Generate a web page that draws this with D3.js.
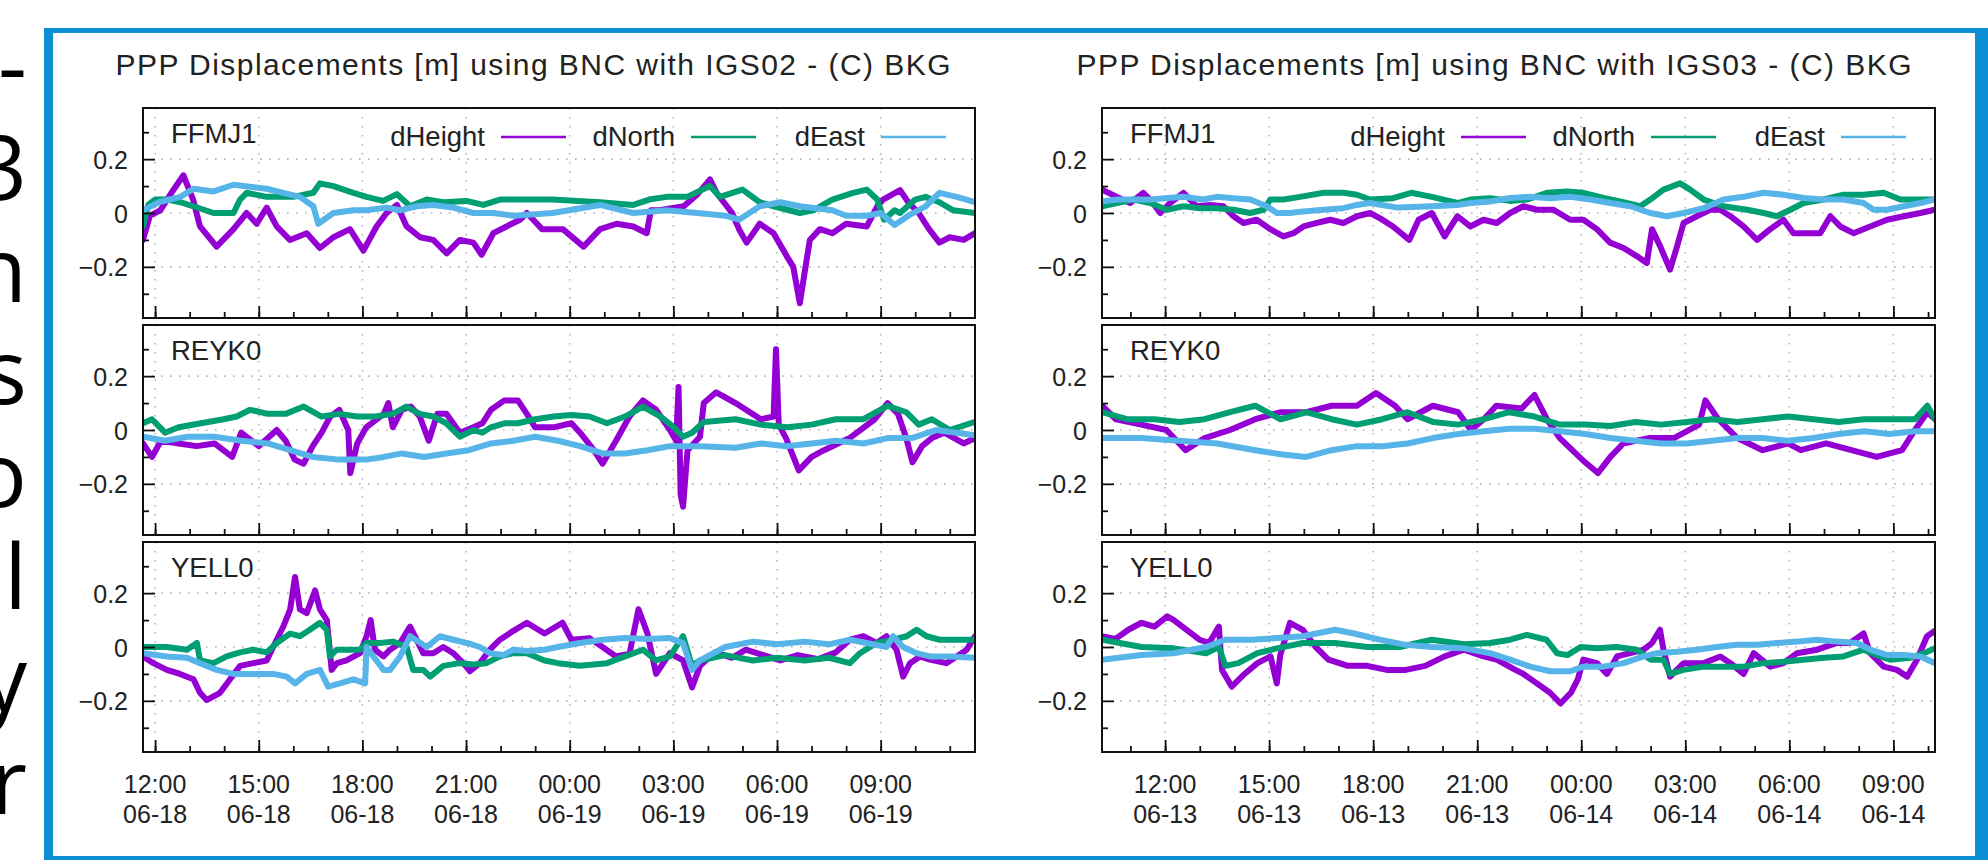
<!DOCTYPE html>
<html>
<head>
<meta charset="utf-8">
<script src="https://cdn.jsdelivr.net/npm/d3@7"></script>
<style>
  body { margin: 0; background: #fff; overflow: hidden; }
  svg { display: block; }
</style>
</head>
<body>
<svg id="page" width="1988" height="860"></svg>
<script>
// ---- data (hours after 12:00 of the first day, displacement in m) ----
const seriesNames = ["dHeight", "dNorth", "dEast"];
const seriesColors = ["#9400d3", "#009e73", "#56b4e9"];
const stations = ["FFMJ1", "REYK0", "YELL0"];
const titles = [
  "PPP Displacements [m] using BNC with IGS02 - (C) BKG",
  "PPP Displacements [m] using BNC with IGS03 - (C) BKG"
];
const yMajor = [-0.2, 0, 0.2];
const yMinor = [-0.3, -0.1, 0.1, 0.3];
const edgeLetters = ["-", "3", "n", "s", "o", "l", "y", "r"];

// IGS02, 06-18 12:00 .. 06-19
const igs02_FFMJ1_dHeight = [[-0.35,-0.10],[-0.15,-0.01],[0.15,0.01],[0.5,0.08],[0.82,0.14],[1.1,0.05],[1.3,-0.05],[1.78,-0.125],[2.27,-0.06],[2.65,0.0],[2.94,-0.04],[3.23,0.02],[3.52,-0.05],[3.9,-0.10],[4.39,-0.075],[4.77,-0.13],[5.16,-0.09],[5.64,-0.06],[6.03,-0.14],[6.41,-0.05],[6.7,0.0],[7.0,0.03],[7.28,-0.05],[7.67,-0.09],[8.05,-0.10],[8.44,-0.15],[8.82,-0.10],[9.21,-0.11],[9.45,-0.155],[9.79,-0.075],[10.17,-0.05],[10.56,-0.025],[10.76,0.0],[11.2,-0.06],[11.8,-0.06],[12.4,-0.125],[12.88,-0.06],[13.36,-0.04],[13.84,-0.05],[14.23,-0.075],[14.35,0.01],[14.6,0.01],[15.3,0.025],[15.7,0.07],[16.06,0.125],[16.25,0.075],[16.7,0.0],[16.9,-0.06],[17.12,-0.11],[17.5,-0.04],[17.9,-0.075],[18.28,-0.16],[18.47,-0.2],[18.66,-0.335],[18.8,-0.22],[18.95,-0.10],[19.24,-0.06],[19.6,-0.075],[20.0,-0.04],[20.6,-0.05],[20.9,0.025],[21.07,0.05],[21.56,0.085],[21.8,0.04],[22.1,0.0],[22.4,-0.06],[22.7,-0.11],[23.0,-0.09],[23.4,-0.10],[23.73,-0.075]];
const igs02_FFMJ1_dNorth = [[-0.35,-0.05],[-0.2,0.03],[0.0,0.05],[0.35,0.05],[0.73,0.04],[1.11,0.025],[1.69,0.0],[2.27,0.0],[2.46,0.05],[2.65,0.075],[3.23,0.06],[4.0,0.06],[4.58,0.075],[4.77,0.11],[5.16,0.10],[5.74,0.075],[6.12,0.06],[6.6,0.045],[7.0,0.07],[7.38,0.025],[7.86,0.05],[8.34,0.04],[9.01,0.045],[9.5,0.03],[9.98,0.05],[10.56,0.05],[11.5,0.05],[12.88,0.04],[13.84,0.03],[14.3,0.05],[14.8,0.06],[15.4,0.06],[16.06,0.10],[16.35,0.06],[17.0,0.087],[17.5,0.04],[17.9,0.025],[18.66,0.0],[19.05,0.01],[19.6,0.05],[20.2,0.075],[20.6,0.087],[20.9,0.05],[21.1,-0.025],[21.4,0.01],[21.56,0.0],[22.0,0.05],[22.3,0.06],[22.7,0.04],[23.1,0.01],[23.73,0.0]];
const igs02_FFMJ1_dEast = [[-0.35,0.01],[0.11,0.04],[0.73,0.06],[1.11,0.09],[1.69,0.08],[2.27,0.105],[3.23,0.09],[3.71,0.075],[4.19,0.06],[4.58,0.025],[4.72,-0.04],[5.16,0.0],[5.74,0.01],[6.12,0.01],[6.7,0.02],[7.09,0.01],[7.57,0.025],[8.05,0.03],[8.63,0.02],[9.21,0.0],[9.79,0.0],[10.37,-0.01],[11.5,0.0],[12.88,0.03],[13.84,0.0],[14.8,0.01],[15.7,0.0],[16.5,-0.01],[16.9,-0.025],[17.5,0.025],[18.1,0.04],[18.66,0.025],[19.6,0.01],[20.0,-0.01],[20.6,-0.01],[21.0,0.0],[21.4,-0.045],[21.8,-0.01],[22.3,0.025],[22.7,0.075],[23.2,0.06],[23.73,0.04]];

const igs02_REYK0_dHeight = [[-0.35,-0.05],[-0.09,-0.10],[0.17,-0.04],[0.68,-0.05],[1.2,-0.06],[1.72,-0.05],[2.23,-0.10],[2.49,-0.01],[3.0,-0.06],[3.52,0.0],[3.78,-0.04],[4.04,-0.11],[4.3,-0.125],[4.56,-0.06],[4.82,-0.01],[5.07,0.05],[5.33,0.075],[5.59,0.0],[5.65,-0.16],[5.85,-0.05],[6.11,0.01],[6.62,0.06],[6.75,0.10],[6.88,0.01],[7.14,0.075],[7.4,0.087],[7.66,0.05],[7.92,-0.04],[8.17,0.06],[8.43,0.06],[8.82,-0.01],[9.21,0.01],[9.47,0.025],[9.72,0.075],[10.11,0.11],[10.5,0.11],[10.76,0.06],[11.0,0.01],[11.53,0.01],[12.05,0.025],[12.3,-0.01],[12.7,-0.075],[12.95,-0.125],[13.34,-0.04],[13.73,0.05],[14.12,0.11],[14.5,0.075],[14.9,0.0],[15.08,-0.04],[15.15,0.16],[15.21,-0.24],[15.28,-0.285],[15.41,-0.075],[15.77,-0.025],[15.88,0.10],[16.24,0.14],[16.8,0.10],[17.53,0.04],[17.9,0.05],[17.97,0.30],[18.05,0.02],[18.26,-0.03],[18.63,-0.15],[19.0,-0.10],[19.36,-0.075],[20.1,-0.03],[20.83,0.04],[21.2,0.10],[21.5,0.06],[21.74,-0.03],[21.92,-0.12],[22.2,-0.06],[22.48,-0.03],[22.84,-0.01],[23.4,-0.05],[23.73,-0.03]];
const igs02_REYK0_dNorth = [[-0.35,0.025],[-0.09,0.04],[0.29,-0.01],[0.68,0.01],[1.33,0.025],[1.98,0.04],[2.36,0.05],[2.75,0.075],[3.26,0.06],[3.78,0.06],[4.3,0.087],[4.82,0.05],[5.33,0.06],[5.85,0.05],[6.37,0.05],[6.88,0.06],[7.27,0.087],[7.66,0.06],[8.05,0.05],[8.43,0.025],[8.82,-0.025],[9.21,0.0],[9.47,-0.01],[9.72,0.01],[10.11,0.025],[10.5,0.025],[11.0,0.04],[11.53,0.05],[12.05,0.056],[12.57,0.05],[13.08,0.025],[13.6,0.05],[14.12,0.087],[14.63,0.05],[15.02,0.01],[15.28,-0.025],[15.54,-0.01],[15.88,0.03],[16.8,0.04],[17.53,0.02],[18.3,0.01],[19.0,0.02],[19.7,0.04],[20.5,0.04],[21.2,0.09],[21.74,0.066],[22.1,0.02],[22.48,0.04],[23.0,0.0],[23.73,0.03]];
const igs02_REYK0_dEast = [[-0.35,-0.025],[0.29,-0.04],[0.94,-0.025],[1.72,-0.025],[2.49,-0.04],[3.26,-0.05],[3.91,-0.075],[4.56,-0.10],[5.33,-0.11],[6.11,-0.11],[6.62,-0.10],[7.14,-0.087],[7.79,-0.10],[8.43,-0.087],[9.08,-0.075],[9.72,-0.05],[10.37,-0.04],[11.0,-0.025],[11.66,-0.04],[12.3,-0.06],[12.95,-0.087],[13.6,-0.087],[14.25,-0.075],[14.9,-0.06],[15.77,-0.06],[16.8,-0.066],[17.53,-0.05],[18.26,-0.06],[19.0,-0.05],[19.7,-0.04],[20.5,-0.05],[21.2,-0.03],[21.9,-0.03],[22.6,0.0],[23.73,-0.02]];

const igs02_YELL0_dHeight = [[-0.35,-0.035],[-0.05,-0.06],[0.34,-0.085],[0.72,-0.10],[1.11,-0.12],[1.3,-0.17],[1.49,-0.197],[1.88,-0.17],[2.17,-0.12],[2.46,-0.07],[2.84,-0.06],[3.23,-0.05],[3.52,0.027],[3.71,0.076],[3.91,0.14],[4.05,0.26],[4.19,0.14],[4.39,0.126],[4.63,0.21],[4.77,0.14],[4.97,0.10],[5.11,-0.085],[5.26,-0.06],[5.54,-0.05],[5.93,-0.023],[6.12,0.04],[6.24,0.10],[6.36,-0.01],[6.61,-0.035],[6.8,-0.01],[7.09,0.015],[7.38,0.076],[7.57,0.027],[7.76,-0.023],[8.05,-0.023],[8.34,0.0],[8.63,-0.023],[8.92,-0.06],[9.11,-0.09],[9.4,-0.06],[9.69,-0.01],[9.98,0.027],[10.37,0.06],[10.76,0.09],[11.27,0.05],[11.79,0.09],[12.05,0.027],[12.57,0.033],[12.95,0.0],[13.34,-0.035],[13.73,-0.025],[13.99,0.14],[14.25,0.05],[14.5,-0.10],[14.9,-0.023],[15.28,-0.05],[15.54,-0.15],[15.77,-0.07],[16.2,-0.02],[16.7,-0.04],[17.1,-0.01],[17.6,-0.03],[18.1,-0.05],[18.6,-0.03],[19.2,-0.045],[19.7,-0.02],[20.11,0.027],[20.5,0.04],[20.88,0.015],[21.17,0.04],[21.46,-0.01],[21.65,-0.11],[21.85,-0.06],[22.14,-0.035],[22.42,-0.047],[22.9,-0.06],[23.2,-0.035],[23.49,-0.01],[23.73,0.04]];
const igs02_YELL0_dNorth = [[-0.35,0.0],[0.34,0.0],[0.92,-0.01],[1.21,0.015],[1.3,-0.05],[1.69,-0.06],[2.07,-0.035],[2.46,-0.02],[2.84,-0.01],[3.23,-0.02],[3.52,0.015],[3.91,0.05],[4.19,0.04],[4.48,0.064],[4.77,0.09],[4.97,0.064],[5.06,-0.035],[5.26,-0.01],[5.64,-0.01],[5.93,-0.01],[6.12,0.015],[6.51,0.015],[6.89,0.02],[7.28,0.0],[7.47,-0.085],[7.76,-0.085],[7.96,-0.11],[8.34,-0.07],[8.82,-0.06],[9.21,-0.065],[9.59,-0.06],[9.98,-0.035],[10.37,-0.023],[10.76,-0.023],[11.27,-0.05],[11.66,-0.06],[12.3,-0.07],[13.08,-0.06],[13.6,-0.035],[14.12,-0.01],[14.5,-0.05],[14.9,-0.035],[15.28,0.04],[15.54,-0.07],[15.77,-0.05],[16.5,-0.03],[17.3,-0.05],[18.0,-0.04],[18.8,-0.05],[19.5,-0.04],[20.11,-0.06],[20.4,-0.023],[20.88,0.015],[21.36,0.027],[21.75,0.04],[22.04,0.064],[22.33,0.04],[22.71,0.027],[23.2,0.027],[23.73,0.027]];
const igs02_YELL0_dEast = [[-0.35,-0.023],[0.34,-0.035],[0.92,-0.04],[1.3,-0.06],[1.78,-0.085],[2.27,-0.10],[2.84,-0.10],[3.42,-0.10],[3.81,-0.11],[4.05,-0.135],[4.39,-0.10],[4.77,-0.085],[5.01,-0.147],[5.35,-0.135],[5.74,-0.12],[6.08,-0.135],[6.12,0.0],[6.32,-0.035],[6.61,-0.085],[6.8,-0.085],[7.09,-0.035],[7.38,0.04],[7.86,0.0],[8.24,0.04],[8.63,0.027],[9.02,0.015],[9.4,0.0],[9.69,-0.023],[10.08,-0.03],[10.37,-0.01],[10.76,-0.015],[11.27,-0.01],[11.66,0.0],[12.3,0.015],[12.95,0.027],[13.6,0.033],[14.25,0.03],[14.9,0.033],[15.28,0.015],[15.54,-0.085],[15.77,-0.05],[16.5,0.0],[17.3,0.02],[18.0,0.01],[18.8,0.02],[19.5,0.01],[20.11,0.027],[20.59,0.015],[21.17,0.0],[21.36,0.04],[21.65,0.0],[22.04,-0.023],[22.42,-0.035],[23.0,-0.035],[23.73,-0.04]];

// IGS03, 06-13 12:00 .. 06-14
const igs03_FFMJ1_dHeight = [[-1.82,0.087],[-1.39,0.06],[-1.01,0.037],[-0.63,0.075],[-0.43,0.05],[-0.14,0.0],[0.14,0.037],[0.53,0.075],[0.91,0.025],[1.3,0.03],[1.68,0.025],[1.97,-0.012],[2.26,-0.037],[2.64,-0.025],[3.03,-0.06],[3.41,-0.087],[3.7,-0.075],[3.99,-0.05],[4.38,-0.037],[4.76,-0.025],[5.14,-0.037],[5.53,-0.012],[5.91,0.0],[6.2,-0.02],[6.57,-0.05],[7.04,-0.10],[7.31,-0.025],[7.69,0.0],[8.06,-0.087],[8.43,-0.012],[8.8,-0.05],[9.18,-0.025],[9.56,-0.037],[9.95,0.0],[10.33,0.025],[10.72,0.012],[11.2,0.012],[11.68,-0.025],[12.06,-0.025],[12.45,-0.06],[12.83,-0.11],[13.22,-0.13],[13.6,-0.16],[13.89,-0.186],[14.04,-0.06],[14.28,-0.125],[14.56,-0.21],[14.76,-0.125],[14.95,-0.037],[15.33,-0.012],[15.72,0.012],[16.01,0.012],[16.3,-0.012],[16.68,-0.05],[17.07,-0.10],[17.45,-0.06],[17.83,-0.025],[18.12,-0.075],[18.51,-0.075],[18.89,-0.075],[19.18,-0.012],[19.47,-0.05],[19.85,-0.075],[20.33,-0.05],[20.82,-0.025],[21.3,-0.012],[21.78,0.0],[22.2,0.012]];
const igs03_FFMJ1_dNorth = [[-1.82,0.025],[-1.39,0.037],[-0.91,0.05],[-0.43,0.037],[0.05,0.012],[0.53,0.025],[1.01,0.018],[1.49,0.018],[1.97,0.012],[2.45,0.0],[2.84,0.012],[3.03,0.05],[3.41,0.05],[3.89,0.06],[4.57,0.075],[5.14,0.075],[5.53,0.068],[5.91,0.05],[6.57,0.055],[7.1,0.075],[7.69,0.06],[8.43,0.037],[8.8,0.05],[9.37,0.055],[9.95,0.045],[10.43,0.05],[11.01,0.075],[11.58,0.08],[12.06,0.075],[12.64,0.056],[13.12,0.043],[13.7,0.025],[13.99,0.05],[14.37,0.087],[14.85,0.11],[15.14,0.087],[15.53,0.05],[16.1,0.025],[16.78,0.012],[17.26,0.0],[17.64,-0.012],[18.03,0.012],[18.41,0.037],[18.99,0.05],[19.56,0.068],[20.14,0.068],[20.72,0.075],[21.2,0.05],[21.68,0.05],[22.2,0.05]];
const igs03_FFMJ1_dEast = [[-1.82,0.043],[-1.39,0.05],[-0.43,0.05],[0.53,0.06],[1.1,0.05],[1.49,0.06],[1.97,0.055],[2.45,0.05],[2.93,0.025],[3.22,0.0],[3.61,0.0],[3.99,0.006],[4.57,0.012],[5.14,0.018],[5.53,0.03],[5.91,0.037],[6.7,0.02],[7.69,0.025],[8.43,0.03],[8.8,0.037],[9.37,0.043],[9.95,0.056],[10.53,0.06],[11.1,0.055],[11.68,0.06],[12.26,0.05],[12.83,0.037],[13.41,0.025],[13.99,0.0],[14.47,-0.012],[14.95,0.0],[15.53,0.018],[16.1,0.05],[16.68,0.06],[17.26,0.075],[17.83,0.068],[18.41,0.056],[18.99,0.05],[19.56,0.05],[20.14,0.037],[20.43,0.012],[20.82,0.012],[21.3,0.025],[21.78,0.037],[22.2,0.05]];

const igs03_REYK0_dHeight = [[-1.82,0.09],[-1.42,0.04],[-0.69,0.02],[0.04,0.0],[0.59,-0.075],[1.14,-0.03],[1.87,0.0],[2.6,0.04],[3.33,0.066],[4.07,0.066],[4.8,0.09],[5.53,0.09],[6.08,0.137],[6.63,0.09],[6.99,0.04],[7.72,0.09],[8.45,0.066],[8.82,0.0],[9.19,0.04],[9.55,0.09],[10.28,0.08],[10.65,0.13],[11.01,0.04],[11.38,-0.03],[11.74,-0.075],[12.11,-0.12],[12.48,-0.16],[12.84,-0.10],[13.21,-0.05],[13.94,-0.03],[14.67,-0.03],[15.4,0.02],[15.58,0.11],[15.95,0.04],[16.5,-0.03],[17.23,-0.075],[17.96,-0.05],[18.33,-0.075],[19.06,-0.05],[19.79,-0.075],[20.52,-0.10],[21.25,-0.075],[21.62,0.0],[21.98,0.066],[22.2,0.04]];
const igs03_REYK0_dNorth = [[-1.82,0.066],[-1.1,0.04],[-0.3,0.04],[0.41,0.03],[1.14,0.04],[1.87,0.066],[2.6,0.09],[3.33,0.04],[4.07,0.066],[4.8,0.04],[5.53,0.02],[6.26,0.04],[6.99,0.066],[7.72,0.03],[8.45,0.02],[9.19,0.04],[9.92,0.066],[10.65,0.05],[11.38,0.02],[12.11,0.02],[12.84,0.015],[13.57,0.03],[14.3,0.02],[15.04,0.03],[15.77,0.04],[16.5,0.03],[17.23,0.04],[17.96,0.05],[18.69,0.04],[19.42,0.03],[20.16,0.04],[20.89,0.04],[21.62,0.04],[21.98,0.09],[22.2,0.04]];
const igs03_REYK0_dEast = [[-1.82,-0.03],[-0.69,-0.03],[0.41,-0.04],[1.5,-0.05],[2.6,-0.075],[3.33,-0.09],[4.07,-0.10],[4.8,-0.075],[5.53,-0.06],[6.26,-0.06],[6.99,-0.05],[7.72,-0.03],[8.45,-0.015],[9.19,-0.005],[9.92,0.005],[10.65,0.005],[11.38,-0.005],[12.11,-0.015],[12.84,-0.03],[13.57,-0.04],[14.3,-0.05],[15.04,-0.05],[15.77,-0.04],[16.5,-0.03],[17.23,-0.03],[17.96,-0.04],[18.69,-0.03],[19.42,-0.015],[20.16,-0.005],[20.89,-0.015],[21.62,-0.005],[22.2,-0.005]];

const igs03_YELL0_dHeight = [[-1.82,0.04],[-1.43,0.03],[-1.06,0.064],[-0.68,0.09],[-0.31,0.076],[0.06,0.114],[0.25,0.10],[0.62,0.064],[0.99,0.027],[1.27,0.015],[1.55,0.076],[1.64,-0.085],[1.92,-0.147],[2.29,-0.10],[2.66,-0.06],[3.04,-0.035],[3.22,-0.135],[3.32,-0.03],[3.6,0.09],[3.97,0.064],[4.34,0.0],[4.71,-0.047],[5.27,-0.07],[5.83,-0.07],[6.39,-0.085],[6.94,-0.085],[7.5,-0.07],[8.06,-0.035],[8.62,-0.01],[9.18,-0.035],[9.56,-0.047],[10.1,-0.085],[10.33,-0.10],[10.72,-0.135],[11.1,-0.17],[11.4,-0.21],[11.7,-0.17],[11.9,-0.12],[12.06,-0.047],[12.45,-0.06],[12.74,-0.10],[13.03,-0.035],[13.41,-0.023],[13.8,-0.01],[14.04,0.015],[14.27,0.064],[14.37,-0.01],[14.56,-0.11],[14.95,-0.06],[15.53,-0.06],[16.01,-0.035],[16.3,-0.06],[16.68,-0.10],[16.97,-0.023],[17.45,-0.073],[17.83,-0.06],[18.22,-0.023],[18.8,-0.01],[19.37,0.015],[19.75,0.015],[20.14,0.05],[20.33,-0.023],[20.72,-0.073],[21.1,-0.085],[21.4,-0.11],[21.68,-0.047],[21.97,0.04],[22.2,0.06]];
const igs03_YELL0_dNorth = [[-1.82,0.027],[-0.68,0.0],[0.25,-0.005],[1.18,-0.023],[1.55,0.0],[1.74,-0.07],[2.11,-0.06],[2.66,-0.023],[3.22,-0.005],[3.97,0.015],[4.9,0.015],[5.83,0.0],[6.76,0.0],[7.69,0.027],[8.62,0.01],[9.37,0.015],[9.95,0.027],[10.43,0.045],[11.0,0.027],[11.3,-0.023],[11.6,-0.03],[11.98,0.0],[12.45,-0.005],[13.03,0.0],[13.6,-0.01],[14.0,-0.047],[14.37,-0.047],[14.56,-0.10],[14.95,-0.085],[15.53,-0.073],[16.1,-0.073],[16.68,-0.073],[17.26,-0.06],[17.83,-0.055],[18.41,-0.047],[18.99,-0.04],[19.56,-0.035],[20.14,-0.01],[20.52,-0.03],[20.91,-0.047],[21.49,-0.04],[21.88,-0.023],[22.2,-0.005]];
const igs03_YELL0_dEast = [[-1.82,-0.047],[-0.68,-0.03],[0.25,-0.023],[1.18,0.0],[1.74,0.027],[2.48,0.027],[3.22,0.033],[3.97,0.04],[4.9,0.064],[5.45,0.05],[6.2,0.027],[6.94,0.008],[7.69,0.0],[8.62,-0.005],[9.37,-0.023],[9.95,-0.047],[10.53,-0.073],[11.1,-0.09],[11.68,-0.09],[12.06,-0.073],[12.64,-0.073],[13.22,-0.06],[13.8,-0.035],[14.18,-0.023],[14.76,-0.018],[15.33,-0.01],[15.91,0.0],[16.49,0.008],[17.07,0.008],[17.64,0.015],[18.22,0.02],[18.8,0.027],[19.37,0.02],[19.95,0.015],[20.34,-0.01],[20.82,-0.03],[21.3,-0.03],[21.78,-0.035],[22.2,-0.06]];

// ---- layout ----
const svg = d3.select("#page");
const FONT = "'Liberation Sans', Arial, Helvetica, sans-serif";
const INK = "#222";
const BLUE = "#0b8ed4";
const panelTops = [108, 325, 542];
const panelH = 210;

const plots = [
  {
    title: titles[0], start: Date.UTC(2021, 5, 18, 12), h0: -0.35, h1: 23.73,
    left: 143, right: 975, imgLeft: 53, imgRight: 1013,
    data: [[igs02_FFMJ1_dHeight, igs02_FFMJ1_dNorth, igs02_FFMJ1_dEast],
           [igs02_REYK0_dHeight, igs02_REYK0_dNorth, igs02_REYK0_dEast],
           [igs02_YELL0_dHeight, igs02_YELL0_dNorth, igs02_YELL0_dEast]]
  },
  {
    title: titles[1], start: Date.UTC(2021, 5, 13, 12), h0: -1.82, h1: 22.2,
    left: 1102, right: 1935, imgLeft: 1013, imgRight: 1975,
    data: [[igs03_FFMJ1_dHeight, igs03_FFMJ1_dNorth, igs03_FFMJ1_dEast],
           [igs03_REYK0_dHeight, igs03_REYK0_dNorth, igs03_REYK0_dEast],
           [igs03_YELL0_dHeight, igs03_YELL0_dNorth, igs03_YELL0_dEast]]
  }
];

// cut-off text at the left edge of the page
svg.append("g").selectAll("text")
  .data(edgeLetters)
  .enter().append("text")
  .attr("x", 27)
  .attr("y", (d, i) => 97.5 + i * 102.3)
  .attr("text-anchor", "end")
  .attr("font-family", "'Open Sans', 'Noto Sans', sans-serif")
  .attr("font-size", 90)
  .attr("fill", "#000")
  .text(d => d);

// blue frame around the two images
svg.append("rect").attr("x", 44).attr("y", 28).attr("width", 1944).attr("height", 5).attr("fill", BLUE);
svg.append("rect").attr("x", 44).attr("y", 28).attr("width", 9).attr("height", 832).attr("fill", BLUE);
svg.append("rect").attr("x", 1975).attr("y", 28).attr("width", 13).attr("height", 832).attr("fill", BLUE);
svg.append("rect").attr("x", 44).attr("y", 856).attr("width", 1944).attr("height", 4).attr("fill", BLUE);

const fmtTime = d3.utcFormat("%H:%M");
const fmtDay = d3.utcFormat("%m-%d");

plots.forEach((p, pi) => {
  const toDate = h => new Date(p.start + h * 3600e3);
  const x = d3.scaleUtc().domain([toDate(p.h0), toDate(p.h1)]).range([p.left, p.right]);
  const majorX = x.ticks(d3.utcHour.every(3));
  const minorX = x.ticks(d3.utcHour.every(1));
  const g = svg.append("g");

  // title
  g.append("text")
    .attr("x", (p.imgLeft + p.imgRight) / 2)
    .attr("y", 75)
    .attr("text-anchor", "middle")
    .attr("font-family", FONT)
    .attr("font-size", 30)
    .attr("fill", INK)
    .attr("textLength", 835)
    .attr("lengthAdjust", "spacing")
    .text(p.title);

  panelTops.forEach((top, si) => {
    const y = d3.scaleLinear().domain([-0.39, 0.39]).range([top + panelH, top]);
    const pg = g.append("g");

    // dotted grid
    pg.selectAll("line.hgrid")
      .data(yMajor)
      .enter().append("line")
      .attr("class", "hgrid")
      .attr("x1", p.left).attr("x2", p.right)
      .attr("y1", d => y(d)).attr("y2", d => y(d))
      .attr("stroke", "#b4b4b4").attr("stroke-width", 1.6)
      .attr("stroke-dasharray", "1.6,7.4");
    pg.selectAll("line.vgrid")
      .data(majorX)
      .enter().append("line")
      .attr("class", "vgrid")
      .attr("x1", d => x(d)).attr("x2", d => x(d))
      .attr("y1", top).attr("y2", top + panelH)
      .attr("stroke", "#b4b4b4").attr("stroke-width", 1.6)
      .attr("stroke-dasharray", "1.6,7.4");

    // series
    const clipId = `clip${pi}${si}`;
    pg.append("clipPath").attr("id", clipId)
      .append("rect").attr("x", p.left).attr("y", top)
      .attr("width", p.right - p.left).attr("height", panelH);
    const line = d3.line()
      .x(d => x(toDate(d[0])))
      .y(d => y(d[1]));
    pg.append("g").attr("clip-path", `url(#${clipId})`)
      .selectAll("path")
      .data(p.data[si])
      .enter().append("path")
      .attr("d", line)
      .attr("fill", "none")
      .attr("stroke", (d, k) => seriesColors[k])
      .attr("stroke-width", 6)
      .attr("stroke-linejoin", "round")
      .attr("stroke-linecap", "round");

    // ticks pointing into the frame
    const yAxis = d3.axisLeft(y).tickValues(yMajor).tickSize(-12).tickPadding(15)
      .tickFormat(d => d === 0 ? "0" : d3.format(".1f")(d));
    const ya = pg.append("g").attr("transform", `translate(${p.left},0)`).call(yAxis);
    const yMin = d3.axisLeft(y).tickValues(yMinor).tickSize(-6).tickFormat("");
    const ym = pg.append("g").attr("transform", `translate(${p.left},0)`).call(yMin);
    const xMin = d3.axisBottom(x).tickValues(minorX).tickSize(-6).tickFormat("");
    const xm = pg.append("g").attr("transform", `translate(0,${top + panelH})`).call(xMin);
    const xMaj = d3.axisBottom(x).tickValues(majorX).tickSize(-12).tickFormat("");
    const xa = pg.append("g").attr("transform", `translate(0,${top + panelH})`).call(xMaj);
    [ya, ym, xm, xa].forEach(a => {
      a.select(".domain").remove();
      a.selectAll(".tick line").attr("stroke", "#111").attr("stroke-width", 1.8);
    });
    ya.selectAll(".tick text")
      .attr("font-family", FONT).attr("font-size", 25).attr("fill", INK)
      .attr("dy", "0.36em");

    // frame
    pg.append("rect")
      .attr("x", p.left).attr("y", top)
      .attr("width", p.right - p.left).attr("height", panelH)
      .attr("fill", "none").attr("stroke", "#111").attr("stroke-width", 2);

    // station name
    pg.append("text")
      .attr("x", p.left + 28).attr("y", top + 35)
      .attr("font-family", FONT).attr("font-size", 27.5).attr("fill", INK)
      .text(stations[si]);

    // legend, top panel only
    if (si === 0) {
      seriesNames.forEach((name, k) => {
        const off = 190 * (2 - k);
        pg.append("text")
          .attr("x", p.right - 110 - off).attr("y", top + 38)
          .attr("text-anchor", "end")
          .attr("font-family", FONT).attr("font-size", 27.5).attr("fill", INK)
          .text(name);
        pg.append("line")
          .attr("x1", p.right - 94 - off).attr("x2", p.right - 29 - off)
          .attr("y1", top + 29).attr("y2", top + 29)
          .attr("stroke", seriesColors[k]).attr("stroke-width", 2.6);
      });
    }
  });

  // two-line time labels under the bottom panel
  const lab = g.append("g").selectAll("text")
    .data(majorX)
    .enter().append("text")
    .attr("text-anchor", "middle")
    .attr("font-family", FONT).attr("font-size", 25).attr("fill", INK);
  lab.append("tspan").attr("x", d => x(d)).attr("y", 793).text(d => fmtTime(d));
  lab.append("tspan").attr("x", d => x(d)).attr("y", 823).text(d => fmtDay(d));
});
</script>
</body>
</html>
